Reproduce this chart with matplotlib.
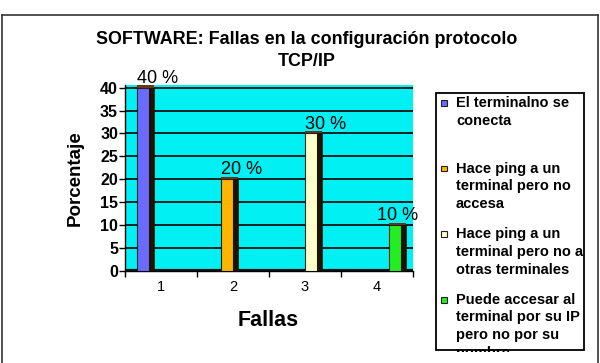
import matplotlib
matplotlib.use("Agg")
import matplotlib.pyplot as plt
from matplotlib.patches import Rectangle
import numpy as np

plt.rcParams['font.family'] = ['Liberation Sans', 'DejaVu Sans']

# data
categories = [1, 2, 3, 4]
values = [40, 20, 30, 10]
value_labels = ["40 %", "20 %", "30 %", "10 %"]
bar_colors = ["#6b6bff", "#ffb400", "#ffffcc", "#22ee22"]
legend_labels = [
    "El terminalno se\nconecta",
    "Hace ping a un\nterminal pero no\naccesa",
    "Hace ping a un\nterminal pero no a\notras terminales",
    "Puede accesar al\nterminal por su IP\npero no por su\nnombre",
]
yticks = [0, 5, 10, 15, 20, 25, 30, 35, 40]

W, H = 600, 363
fig = plt.figure(figsize=(6, 3.63), dpi=100)

def fx(px):
    return px / W

def fy(py):
    return 1 - py / H

# outer frame
fig.add_artist(plt.Line2D([fx(2), fx(2)], [fy(15), 0], color="#333333", lw=1.2))
fig.add_artist(plt.Line2D([fx(2), fx(598)], [fy(15), fy(15)], color="#333333", lw=1.2))
fig.add_artist(plt.Line2D([fx(598), fx(598)], [fy(15), 0], color="#333333", lw=1.2))

ax = fig.add_axes([fx(125), fy(270.7), fx(413) - fx(125), fy(85) - fy(270.7)])
ax.set_facecolor("#00f0f4")
ax.set_xlim(0.5, 4.5)
ax.set_ylim(0, 40.6)

for y in yticks[1:]:
    ax.axhline(y, color="black", lw=1.2, zorder=1)

# bars (front face + dark side, 3D look)
cats = np.array(categories)
left = cats * 1.167 - 0.5
bw = 0.165
side = 0.07
ax.bar(left, values, width=bw, align="edge", color=bar_colors, edgecolor="#222222", lw=0.8, zorder=3)
ax.bar(left + bw, values, width=side, align="edge", color="#1c1200", edgecolor="#1c1200", lw=0.5, zorder=3)
ax.bar(left, [0.5] * 4, bottom=values, width=bw + side, align="edge", color="#6a3410", lw=0, zorder=3)

for p, v, t in zip(left, values, value_labels):
    ax.text(min(p + 0.29, 4.29), v + 0.2, t, ha="center", va="bottom", fontsize=13, zorder=4)

# floor
ax.axhline(0, color="#111111", lw=3, zorder=2)

ax.set_yticks(yticks)
ax.set_yticklabels([str(y) for y in yticks], fontsize=11.5, fontweight="bold")
ax.set_xticks(categories)
ax.set_xticklabels([str(c) for c in categories], fontsize=10.5)
ax.tick_params(axis="x", which="major", length=0, pad=7)
ax.set_xticks([0.5, 1.5, 2.5, 3.5, 4.5], minor=True)
ax.tick_params(axis="x", which="minor", length=4, width=1, direction="out")
ax.tick_params(axis="y", length=4, width=1, pad=1)
for s in ["top", "right"]:
    ax.spines[s].set_visible(False)
ax.spines["left"].set_linewidth(1)
ax.spines["bottom"].set_linewidth(1)

# titles
fig.text(fx(307), fy(40), "SOFTWARE: Fallas en la configuración protocolo",
         ha="center", va="center", fontsize=12.9, fontweight="bold")
fig.text(fx(307), fy(61), "TCP/IP", ha="center", va="center", fontsize=12.9, fontweight="bold")
fig.text(fx(268), fy(321), "Fallas", ha="center", va="center", fontsize=15.5, fontweight="bold")
fig.text(fx(75), fy(178), "Porcentaje", ha="center", va="center", rotation=90,
         fontsize=13.5, fontweight="bold")

# legend box drawn by hand
box = Rectangle((fx(436), fy(350)), fx(584) - fx(436), fy(93) - fy(350),
                transform=fig.transFigure, fill=False, edgecolor="black", lw=1.3)
fig.add_artist(box)
clip = Rectangle((fx(436), fy(352)), fx(584) - fx(436), fy(93) - fy(352),
                 transform=fig.transFigure, fill=False, visible=False)
for i, (lab, c) in enumerate(zip(legend_labels, bar_colors)):
    ytop = 103 + 65.5 * i
    fig.add_artist(Rectangle((fx(440.5), fy(ytop + 3)), fx(6), fx(6) * W / H,
                             transform=fig.transFigure, facecolor=c, edgecolor="#222222", lw=0.8))
    t = fig.text(fx(456), fy(ytop - 7), lab, ha="left", va="top", fontsize=10.5,
                 fontweight="bold", linespacing=1.35)
    t.set_clip_path(clip)

fig.savefig("out.png", dpi=100)
